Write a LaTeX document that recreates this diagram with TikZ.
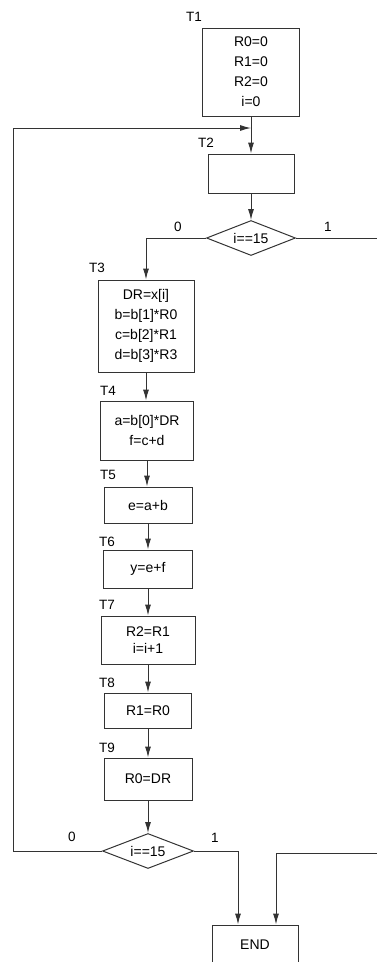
\documentclass[tikz,border=0pt]{standalone}
\usepackage{fontspec}
\setmainfont{Liberation Sans}
\usetikzlibrary{shapes.geometric, arrows.meta, positioning}

\begin{document}
\begin{tikzpicture}[x=1pt, y=-1pt,
    block/.style={rectangle, draw=black!80, line width=1pt, inner sep=0pt, align=center, font=\fontsize{14}{20}\selectfont},
    test/.style={diamond, draw=black!80, line width=1pt, inner sep=0pt, aspect=2.5, font=\fontsize{14}{15}\selectfont},
    tag/.style={inner sep=0pt, font=\fontsize{13.5}{15}\selectfont},
    arrow/.style={-{Latex[length=11pt, width=6pt]}, draw=black!80, line width=1pt}
]
    \useasboundingbox (0,0) rectangle (377,962);
    \clip (0,0) rectangle (377,962);

    % main column
    \node[block, minimum width=97pt, minimum height=88pt] (T1) at (251,72) {R0=0\\R1=0\\R2=0\\i=0};
    \node[block, minimum width=86pt, minimum height=39pt] (T2) at (251,173.5) {};
    \node[test, minimum width=89pt, minimum height=35pt] (d1) at (251,238) {i==15};
    \node[block, minimum width=96pt, minimum height=92pt] (T3) at (146,326) {DR=x[i]\\b=b[1]*R0\\c=b[2]*R1\\d=b[3]*R3};
    \node[block, minimum width=93pt, minimum height=59pt] (T4) at (147,430.5) {a=b[0]*DR\\f=c+d};
    \node[block, minimum width=88pt, minimum height=36pt] (T5) at (148,505) {e=a+b};
    \node[block, minimum width=89pt, minimum height=38pt] (T6) at (148,569) {y=e+f};
    \node[block, minimum width=94pt, minimum height=48pt] (T7) at (148,640) {R2=R1\\[-3pt]i=i+1};
    \node[block, minimum width=87pt, minimum height=35pt] (T8) at (148,710.5) {R1=R0};
    \node[block, minimum width=88pt, minimum height=42pt] (T9) at (148,779) {R0=DR};
    \node[test, minimum width=91pt, minimum height=35pt] (d2) at (148,851) {i==15};
    \node[block, minimum width=86pt, minimum height=40pt] (END) at (255,945) {END};

    % step labels
    \node[tag] (t1) at (194,17) {T1};
    \node[tag] (t2) at (206,143) {T2};
    \node[tag] (t3) at (97,268) {T3};
    \node[tag] (t4) at (108,391) {T4};
    \node[tag] (t5) at (108,475) {T5};
    \node[tag] (t6) at (107,542) {T6};
    \node[tag] (t7) at (107,605) {T7};
    \node[tag] (t8) at (107,683) {T8};
    \node[tag] (t9) at (107,748) {T9};

    % branch labels
    \node[tag] (z1) at (178,227) {0};
    \node[tag] (o1) at (328,227) {1};
    \node[tag] (z2) at (72,837) {0};
    \node[tag] (o2) at (215,838) {1};

    \coordinate (join) at (251,128);
    \coordinate (back) at (13,128);
    \coordinate (edge) at (385,853);

    \draw[arrow] (T1) -- (T2);
    \draw[arrow] (T2) -- (d1);
    \draw[arrow] (d1.west) -| (T3.north);
    \draw[arrow] (T3) -- (T3 |- T4.north);
    \draw[arrow] (T4) -- (T4 |- T5.north);
    \draw[arrow] (T5) -- (T5 |- T6.north);
    \draw[arrow] (T6) -- (T6 |- T7.north);
    \draw[arrow] (T7) -- (T7 |- T8.north);
    \draw[arrow] (T8) -- (T8 |- T9.north);
    \draw[arrow] (T9) -- (T9 |- d2.north);
    \draw[arrow] (d2.west) -| (back) -- (join);
    \draw[arrow] (d2.east) -| ([xshift=-17pt]END.north);
    \draw[arrow] (d1.east) -| (edge) -| ([xshift=21pt]END.north);
\end{tikzpicture}
\end{document}
